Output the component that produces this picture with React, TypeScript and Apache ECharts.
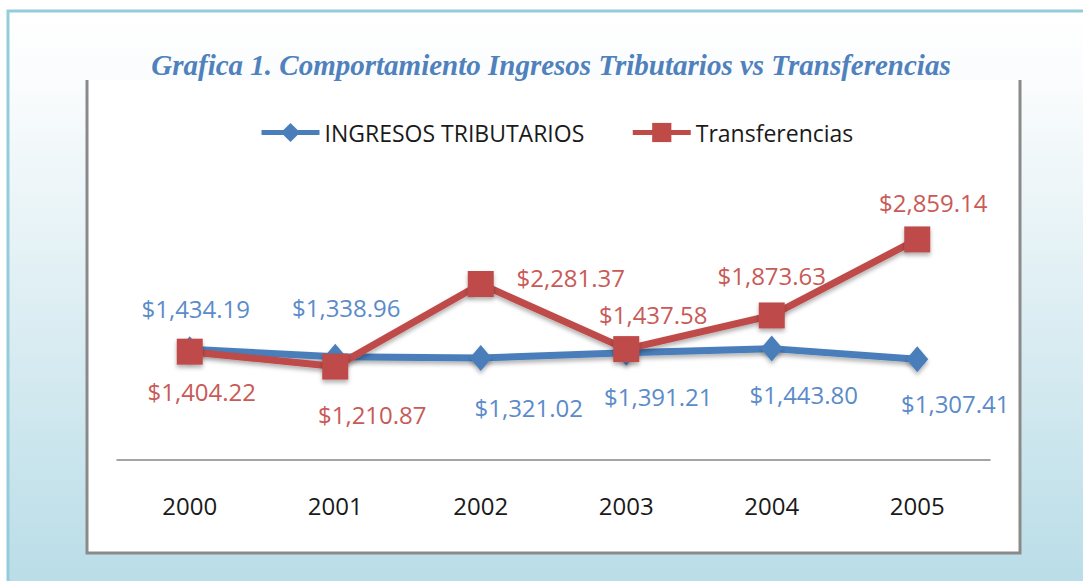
import React, { useEffect, useRef } from "react";
import * as echarts from "echarts";

const years = ["2000", "2001", "2002", "2003", "2004", "2005"];
const ingresosTributarios = [1434.19, 1338.96, 1321.02, 1391.21, 1443.8, 1307.41];
const transferencias = [1404.22, 1210.87, 2281.37, 1437.58, 1873.63, 2859.14];
const seriesNames = ["INGRESOS TRIBUTARIOS", "Transferencias"];
const titleText = "Grafica 1. Comportamiento Ingresos Tributarios vs Transferencias";

// label offsets (style only), relative to each point
const blueLabelOffsets = [
  [6, -41],
  [11, -49],
  [48, 49],
  [32, 44],
  [32, 46],
  [38, 44],
];
const redLabelOffsets = [
  [12, 40],
  [37, 48],
  [90, -7],
  [27, -35],
  [0, -40],
  [16, -37],
];

const fmt = (v: number) =>
  "$" + v.toLocaleString("en-US", { minimumFractionDigits: 2, maximumFractionDigits: 2 });

export default function App() {
  const ref = useRef<HTMLDivElement>(null);
  useEffect(() => {
    if (!ref.current) return;
    const chart = echarts.init(ref.current, null, { renderer: "svg" });
    const font = "Open Sans";
    const blue = "#4a7ebb";
    const red = "#be4b48";
    const shadow = { shadowColor: "rgba(0,0,0,0.3)", shadowBlur: 4, shadowOffsetY: 3 };
    chart.setOption({
      animation: false,
      backgroundColor: "#ffffff",
      graphic: [
        {
          type: "rect",
          z: -10,
          silent: true,
          shape: { x: 8, y: 11, width: 1100, height: 600 },
          style: {
            fill: new echarts.graphic.LinearGradient(0, 0, 0, 1, [
              { offset: 0, color: "#ffffff" },
              { offset: 0.12, color: "#fafcfd" },
              { offset: 1, color: "#b6dbe6" },
            ]),
            stroke: "#93cddc",
            lineWidth: 3,
          },
        },
        {
          type: "rect",
          z: -9,
          silent: true,
          shape: { x: 87, y: 80, width: 933, height: 473 },
          style: { fill: "#ffffff" },
        },
        {
          type: "polyline",
          z: -8,
          silent: true,
          shape: { points: [[87, 80], [87, 553], [1020, 553], [1020, 80]] },
          style: { stroke: "#8a8a8a", lineWidth: 3, fill: null },
        },
        {
          type: "text",
          z: 5,
          silent: true,
          style: {
            text: titleText,
            x: 551,
            y: 65,
            align: "center",
            verticalAlign: "middle",
            font: 'italic bold 29px "Liberation Serif"',
            fill: "#4f81bd",
          },
        },
      ],
      legend: {
        left: 254,
        top: 116,
        itemWidth: 58,
        itemHeight: 24,
        itemGap: 46,
        lineStyle: { width: 5 },
        textStyle: { fontFamily: font, fontSize: 23, color: "#1a1a1a" },
        data: seriesNames,
      },
      grid: { left: 117, right: 93, top: 190, bottom: 121 },
      xAxis: {
        type: "category",
        data: years,
        boundaryGap: true,
        axisLine: { show: true, lineStyle: { color: "#868686", width: 1.5 } },
        axisTick: { show: false },
        axisLabel: { fontFamily: font, fontSize: 24, color: "#1a1a1a", margin: 33 },
      },
      yAxis: {
        type: "value",
        min: 0,
        max: 3500,
        interval: 500,
        show: false,
        splitLine: { show: false },
      },
      series: [
        {
          name: seriesNames[0],
          type: "line",
          symbol: "diamond",
          symbolSize: [22, 26],
          color: blue,
          lineStyle: { width: 7, color: blue, ...shadow },
          itemStyle: { color: blue, ...shadow },
          label: {
            show: true,
            position: "inside",
            fontFamily: font,
            fontSize: 24,
            color: "#5b8bc9",
            formatter: (p: any) => fmt(p.value),
          },
          data: ingresosTributarios.map((v, i) => ({
            value: v,
            label: { offset: blueLabelOffsets[i] },
          })),
        },
        {
          name: seriesNames[1],
          type: "line",
          symbol: "rect",
          symbolSize: 26,
          color: red,
          lineStyle: { width: 7, color: red, ...shadow },
          itemStyle: { color: red, ...shadow },
          label: {
            show: true,
            position: "inside",
            fontFamily: font,
            fontSize: 24,
            color: "#c95a57",
            formatter: (p: any) => fmt(p.value),
          },
          data: transferencias.map((v, i) => ({
            value: v,
            label: { offset: redLabelOffsets[i] },
          })),
        },
      ],
    });
    return () => chart.dispose();
  }, []);
  return (
    <div
      ref={ref}
      style={{ position: "fixed", left: 0, top: 0, width: 1083, height: 581 }}
    />
  );
}
